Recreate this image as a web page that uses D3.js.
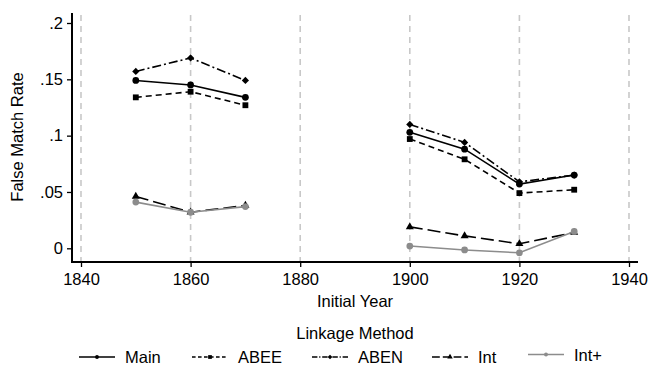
<!DOCTYPE html>
<html>
<head>
<meta charset="utf-8">
<script src="https://cdn.jsdelivr.net/npm/d3@7"></script>
<style>
  body { margin: 0; background: #fff; }
  text { font-family: "Liberation Sans", Arial, sans-serif; fill: #000; }
</style>
</head>
<body>
<div id="chart"></div>
<script>
// data
const years = [1850, 1860, 1870, 1900, 1910, 1920, 1930];
const mainRate = [0.149, 0.145, 0.134, 0.103, 0.088, 0.057, 0.065];
const abeeRate = [0.134, 0.139, 0.127, 0.097, 0.079, 0.049, 0.052];
const abenRate = [0.157, 0.169, 0.149, 0.110, 0.094, 0.059, 0.065];
const intRate = [0.046, 0.032, 0.038, 0.019, 0.011, 0.004, 0.014];
const intPlusRate = [0.041, 0.032, 0.037, 0.002, -0.0015, -0.004, 0.015];
const xTicks = [1840, 1860, 1880, 1900, 1920, 1940];
const yTicks = [0, 0.05, 0.1, 0.15, 0.2];

const FS = 16.5;

const series = [
  { name: "Main", values: mainRate, color: "#000", dash: null, marker: d3.symbolCircle, rot: 0, size: 36, lsize: 12 },
  { name: "ABEE", values: abeeRate, color: "#000", dash: "6,4", marker: d3.symbolSquare, rot: 0, size: 34, lsize: 14 },
  { name: "ABEN", values: abenRate, color: "#000", dash: "9,3,2,3", marker: d3.symbolSquare, rot: 45, size: 26, lsize: 11 },
  { name: "Int", values: intRate, color: "#000", dash: "13,5", marker: d3.symbolTriangle, rot: 0, size: 28, lsize: 13 },
  { name: "Int+", values: intPlusRate, color: "#8c8c8c", dash: null, marker: d3.symbolCircle, rot: 0, size: 36, lsize: 12 }
];

const W = 648, H = 365;
const svg = d3.select("#chart").append("svg")
  .attr("width", W).attr("height", H);

const xScale = d3.scaleLinear().domain([1840, 1940]).range([81, 629]);
const yScale = d3.scaleLinear().domain([0, 0.2]).range([248.3, 23]);

const axisLeft = 72, axisBottom = 262, axisTop = 13, axisRight = 638;

// vertical dashed grid
svg.append("g").selectAll("line")
  .data(xTicks)
  .join("line")
  .attr("x1", d => xScale(d)).attr("x2", d => xScale(d))
  .attr("y1", 15).attr("y2", axisBottom)
  .attr("stroke", "#c8c8c8")
  .attr("stroke-width", 1.6)
  .attr("stroke-dasharray", "6,5");

// axes
const xAxis = d3.axisBottom(xScale).tickValues(xTicks).tickFormat(d3.format("d")).tickSize(5).tickPadding(6);
const yAxis = d3.axisLeft(yScale).tickValues(yTicks)
  .tickFormat(d => d === 0 ? "0" : d3.format(".2~f")(d).replace(/^0/, ""))
  .tickSize(5).tickPadding(4);

const gx = svg.append("g").attr("transform", `translate(0,${axisBottom})`).call(xAxis);
const gy = svg.append("g").attr("transform", `translate(${axisLeft},0)`).call(yAxis);

[gx, gy].forEach(g => {
  g.select(".domain").remove();
  g.selectAll(".tick line").attr("stroke", "#000").attr("stroke-width", 1.3);
  g.selectAll(".tick text").attr("font-size", FS).attr("font-family", "Liberation Sans, Arial, sans-serif").attr("fill", "#000");
});

svg.append("line")
  .attr("x1", axisLeft).attr("x2", axisLeft)
  .attr("y1", axisTop).attr("y2", axisBottom + 1)
  .attr("stroke", "#000").attr("stroke-width", 2);
svg.append("line")
  .attr("x1", axisLeft - 1).attr("x2", axisRight)
  .attr("y1", axisBottom).attr("y2", axisBottom)
  .attr("stroke", "#000").attr("stroke-width", 2);

// axis titles
svg.append("text")
  .attr("x", 355).attr("y", 307)
  .attr("text-anchor", "middle")
  .attr("font-size", FS)
  .text("Initial Year");

svg.append("text")
  .attr("transform", "translate(23,137) rotate(-90)")
  .attr("text-anchor", "middle")
  .attr("font-size", FS)
  .text("False Match Rate");

// lines: two segments per series (1850-1870 and 1900-1930)
const line = d3.line()
  .x(d => xScale(d.year))
  .y(d => yScale(d.value));

series.forEach(s => {
  const pts = years.map((y, i) => ({ year: y, value: s.values[i] }));
  const groups = [pts.filter(p => p.year < 1880), pts.filter(p => p.year > 1880)];
  const g = svg.append("g");
  g.selectAll("path.seg")
    .data(groups)
    .join("path")
    .attr("class", "seg")
    .attr("d", line)
    .attr("fill", "none")
    .attr("stroke", s.color)
    .attr("stroke-width", 1.6)
    .attr("stroke-dasharray", s.dash);
  g.selectAll("path.mk")
    .data(pts)
    .join("path")
    .attr("class", "mk")
    .attr("transform", d => `translate(${xScale(d.year)},${yScale(d.value)}) rotate(${s.rot})`)
    .attr("d", d3.symbol().type(s.marker).size(s.size))
    .attr("fill", s.color);
});

// legend
svg.append("text")
  .attr("x", 355).attr("y", 339)
  .attr("text-anchor", "middle")
  .attr("font-size", FS)
  .text("Linkage Method");

const legendX = [79, 192, 312, 432, 528];
const legendDy = [0, 0, 0, 0, -2.5];
const leg = svg.append("g").selectAll("g")
  .data(series)
  .join("g")
  .attr("transform", (d, i) => `translate(${legendX[i]},${357 + legendDy[i]})`);

leg.append("line")
  .attr("x1", 0).attr("x2", 36)
  .attr("stroke", d => d.color)
  .attr("stroke-width", 1.6)
  .attr("stroke-dasharray", d => d.dash ? d.dash.split(",").map(v => +v * 0.6).join(",") : null);
leg.append("path")
  .attr("transform", d => `translate(18,0) rotate(${d.rot})`)
  .attr("d", d => d3.symbol().type(d.marker).size(d.lsize)())
  .attr("fill", d => d.color);
leg.append("text")
  .attr("x", 46).attr("y", 6)
  .attr("font-size", FS)
  .text(d => d.name);
</script>
</body>
</html>
